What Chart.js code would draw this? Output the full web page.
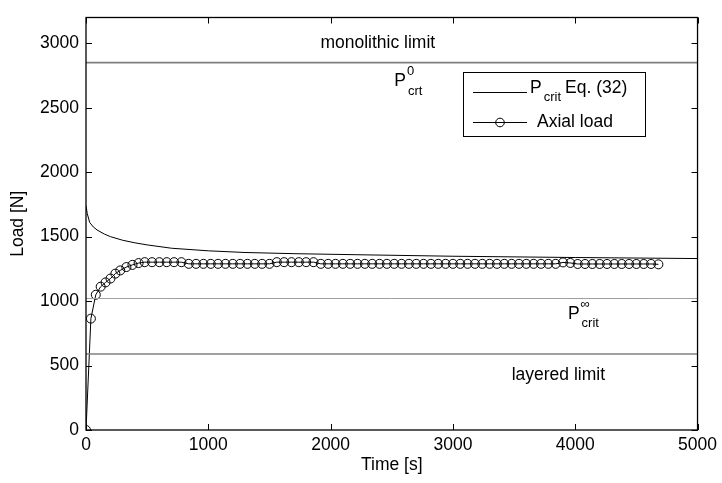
<!DOCTYPE html>
<html><head><meta charset="utf-8">
<script src="https://cdn.jsdelivr.net/npm/chart.js@4/dist/chart.umd.min.js"></script>
<style>html,body{margin:0;padding:0;background:#fff}#wrap{width:722px;height:483px;position:relative}</style>
</head><body><div id="wrap"><canvas id="c"></canvas></div>
<script>
// ---- data ----
const axialTime = [0,40,80,120,160,200,240,280,330,380,430,480,
  540,600,660,720,780,840,900,960,1020,1080,1140,1200,1260,1320,1380,1440,1500,
  1560,1620,1680,1740,1800,1860,1920,1980,2040,2100,2160,2220,2280,2340,2400,
  2460,2520,2580,2640,2700,2760,2820,2880,2940,3000,3060,3120,3180,3240,3300,
  3360,3420,3480,3540,3600,3660,3720,3780,3840,3900,3960,4020,4080,4140,4200,
  4260,4320,4380,4440,4500,4560,4620,4680];
const axialLoad = [0,864,1049,1112,1145,1175,1213,1238,1264,1281,1295,1302,
  1302,1302,1302,1302,1302,1289,1289,1289,1289,1289,1289,1289,1289,1289,1289,1289,1289,
  1302,1302,1302,1302,1302,1302,1289,1289,1289,1289,1289,1289,1289,1289,1289,
  1289,1289,1289,1289,1289,1289,1289,1289,1289,1289,1289,1289,1289,1289,1289,
  1289,1289,1289,1289,1289,1289,1289,1289,1289,1300,1296,1288,1288,1288,1288,
  1288,1288,1288,1288,1288,1288,1288,1285];
const pcritTime = [0,10,30,60,90,150,200,300,400,500,700,1000,1300,1700,2200,3000,4000,5000];
const pcritLoad = [1740,1680,1610,1575,1552,1520,1500,1472,1452,1436,1410,1390,1377,1368,1360,1348,1338,1330];
const monolithicLimit = 2850;
const pcritInfinity = 1020;
const layeredLimit = 590;
const xTickValues = [0,1000,2000,3000,4000,5000];
const yTickValues = [0,500,1000,1500,2000,2500,3000];
const xRange = [0,5000];
const yRange = [0,3200];
const seriesNames = ['P crit Eq. (32)','Axial load'];

const FONT = "'Liberation Sans', Arial, Helvetica, sans-serif";
const FS = 17.5;
Chart.defaults.font.family = FONT;
Chart.defaults.color = '#000';

const toPts = (xs, ys) => xs.map((x,i)=>({x:x, y:ys[i]}));
const hline = (v) => [{x:xRange[0], y:v},{x:xRange[1], y:v}];

function drawPText(ctx, x, y, sup, sub, size){
  ctx.save();
  ctx.textBaseline = 'middle'; ctx.textAlign = 'left';
  ctx.font = size + 'px ' + FONT;
  ctx.fillText('P', x, y);
  const w = ctx.measureText('P').width;
  let end = x + w;
  ctx.font = Math.round(size*0.76) + 'px ' + FONT;
  if (sup){ ctx.fillText(sup, x + w + 1, y - size*0.55); end = Math.max(end, x+w+1+ctx.measureText(sup).width); }
  if (sub){ ctx.fillText(sub, x + w + 2, y + size*0.55); end = Math.max(end, x+w+2+ctx.measureText(sub).width); }
  ctx.restore();
  return end;
}

const decor = {
  id: 'decor',
  afterDraw(chart){
    const ctx = chart.ctx, a = chart.chartArea;
    const xs = chart.scales.x, ys = chart.scales.y;
    ctx.save();
    ctx.strokeStyle = '#000'; ctx.lineWidth = 1.3;
    ctx.strokeRect(a.left, a.top, a.right - a.left, a.bottom - a.top);
    ctx.lineWidth = 1;
    const tl = 6;
    ctx.beginPath();
    xTickValues.forEach(v=>{
      const p = Math.round(xs.getPixelForValue(v)) + 0.5;
      ctx.moveTo(p, a.bottom); ctx.lineTo(p, a.bottom - tl);
      ctx.moveTo(p, a.top); ctx.lineTo(p, a.top + tl);
    });
    yTickValues.forEach(v=>{
      const p = Math.round(ys.getPixelForValue(v)) + 0.5;
      ctx.moveTo(a.left, p); ctx.lineTo(a.left + tl, p);
      ctx.moveTo(a.right, p); ctx.lineTo(a.right - tl, p);
    });
    ctx.stroke();

    // annotations
    ctx.fillStyle = '#000';
    ctx.font = FS + 'px ' + FONT;
    ctx.textAlign = 'center'; ctx.textBaseline = 'middle';
    ctx.fillText('monolithic limit', xs.getPixelForValue(2386), ys.getPixelForValue(3000));
    ctx.fillText('layered limit', xs.getPixelForValue(3862), ys.getPixelForValue(425));
    drawPText(ctx, xs.getPixelForValue(2520), ys.getPixelForValue(2705), '0', 'crt', FS);
    drawPText(ctx, xs.getPixelForValue(3940), ys.getPixelForValue(900), '\u221E', 'crit', FS);

    // legend
    const lx = 463, ly = 72, lw = 182, lh = 64;
    ctx.fillStyle = '#fff';
    ctx.fillRect(lx, ly, lw, lh);
    ctx.lineWidth = 1; ctx.strokeStyle = '#000';
    ctx.strokeRect(lx + 0.5, ly + 0.5, lw, lh);
    const y1 = ly + 20, y2 = ly + 50;
    ctx.beginPath();
    ctx.moveTo(lx + 10, y1 + 0.5); ctx.lineTo(lx + 64, y1 + 0.5);
    ctx.moveTo(lx + 10, y2 + 0.5); ctx.lineTo(lx + 64, y2 + 0.5);
    ctx.stroke();
    ctx.beginPath(); ctx.arc(lx + 37, y2 + 0.5, 4.3, 0, Math.PI*2); ctx.stroke();
    ctx.fillStyle = '#000';
    const e = drawPText(ctx, lx + 67, y1 - 4, null, 'crit', FS);
    ctx.font = FS + 'px ' + FONT; ctx.textAlign = 'left'; ctx.textBaseline = 'middle';
    ctx.fillText('Eq. (32)', e + 4, y1 - 4);
    ctx.fillText('Axial load', lx + 74, y2);
    ctx.restore();
  }
};

new Chart(document.getElementById('c'), {
  type: 'scatter',
  data: {
    datasets: [
      { label: 'monolithic', data: hline(monolithicLimit), showLine: true, borderColor: '#808080', borderWidth: 1.8, pointRadius: 0 },
      { label: 'pinf', data: hline(pcritInfinity), showLine: true, borderColor: '#a0a0a0', borderWidth: 1, pointRadius: 0 },
      { label: 'layered', data: hline(layeredLimit), showLine: true, borderColor: '#808080', borderWidth: 1.6, pointRadius: 0 },
      { label: seriesNames[0], data: toPts(pcritTime, pcritLoad), showLine: true, borderColor: '#000', borderWidth: 1, pointRadius: 0, tension: 0 },
      { label: seriesNames[1], data: toPts(axialTime, axialLoad), showLine: true, borderColor: '#000', borderWidth: 1,
        pointRadius: 4.5, pointBorderWidth: 1, pointBorderColor: '#000', pointBackgroundColor: 'rgba(0,0,0,0)', tension: 0 }
    ]
  },
  options: {
    responsive: true, maintainAspectRatio: false, animation: false,
    layout: { padding: { top: 9, right: 20, left: 0, bottom: 0 } },
    plugins: { legend: { display: false }, tooltip: { enabled: false } },
    scales: {
      x: {
        type: 'linear', min: xRange[0], max: xRange[1],
        grid: { display: false, drawTicks: false }, border: { display: false },
        afterBuildTicks: s => { s.ticks = xTickValues.map(v=>({value:v})); },
        afterFit: s => { s.height = 53; },
        ticks: { font: { size: FS }, color: '#000', padding: 5, maxRotation: 0, autoSkip: false, callback: v => String(v) },
        title: { display: true, text: 'Time [s]', font: { size: FS }, color: '#000', padding: { top: 0, bottom: 7 } }
      },
      y: {
        type: 'linear', min: yRange[0], max: yRange[1],
        grid: { display: false, drawTicks: false }, border: { display: false },
        afterBuildTicks: s => { s.ticks = yTickValues.map(v=>({value:v})); },
        afterFit: s => { s.width = 86; },
        ticks: { font: { size: FS }, color: '#000', padding: 7, autoSkip: false, callback: v => String(v) },
        title: { display: true, text: 'Load [N]', font: { size: FS }, color: '#000', padding: { top: 8, bottom: 0 } }
      }
    }
  },
  plugins: [decor]
});
</script></body></html>
